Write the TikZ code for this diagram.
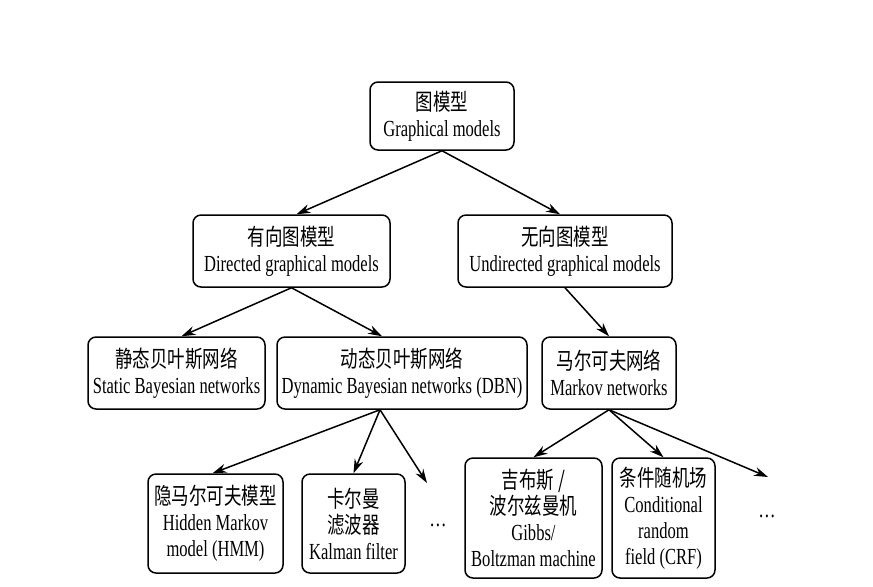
\documentclass[tikz,border=0pt]{standalone}
\usepackage{fontspec}
\setmainfont{Liberation Serif}[FakeStretch=0.72]
\newfontfamily\cjk{Noto Sans CJK SC}[FakeStretch=0.76]
\usepackage{tikz}
\usetikzlibrary{arrows.meta}

\tikzset{
  box/.style={draw, rounded corners=4pt, line width=0.75pt, align=center,
    inner sep=1pt, font=\fontsize{11.5}{13}\selectfont},
  more/.style={font=\fontsize{12}{13}\selectfont, inner sep=0pt},
  link/.style={-{Stealth[length=7pt,width=4.5pt]}, line width=0.75pt},
}

\begin{document}
\begin{tikzpicture}[x=0.5pt,y=-0.5pt]
    \useasboundingbox (0,0) rectangle (873,586);
    \begin{scope} % Root and first level
        \node[box, minimum width=72pt, minimum height=34pt] (gm) at (442,116)
            {{\cjk 图模型}\\Graphical models};
        \node[box, minimum width=98.5pt, minimum height=36pt] (dgm) at (291.5,251)
            {{\cjk 有向图模型}\\Directed graphical models};
        \node[box, minimum width=107pt, minimum height=36pt] (ugm) at (565,251)
            {{\cjk 无向图模型}\\Undirected graphical models};
    \end{scope}
    \begin{scope} % Second level
        \node[box, minimum width=88.5pt, minimum height=36pt] (sbn) at (176.5,373)
            {{\cjk 静态贝叶斯网络}\\Static Bayesian networks};
        \node[box, minimum width=125pt, minimum height=36pt] (dbn) at (402,373)
            {{\cjk 动态贝叶斯网络}\\Dynamic Bayesian networks (DBN)};
        \node[box, minimum width=67pt, minimum height=36pt] (mn) at (609,373)
            {{\cjk 马尔可夫网络}\\Markov networks};
    \end{scope}
    \begin{scope} % Leaves
        \node[box, minimum width=67.5pt, minimum height=49.5pt] (hmm) at (215.5,523.5)
            {{\cjk 隐马尔可夫模型}\\Hidden Markov\\model (HMM)};
        \node[box, minimum width=51.5pt, minimum height=49.5pt] (kf) at (353.5,523.5)
            {{\cjk 卡尔曼}\\{\cjk 滤波器}\\Kalman filter};
        \node[more] (dotsa) at (438,525) {…};
        \node[box, minimum width=68.5pt, minimum height=60pt] (gibbs) at (533.5,518)
            {{\cjk 吉布斯 /}\\{\cjk 波尔兹曼机}\\Gibbs/\\Boltzman machine};
        \node[box, minimum width=51.5pt, minimum height=60pt] (crf) at (663.5,518)
            {{\cjk 条件随机场}\\Conditional\\random\\field (CRF)};
        \node[more] (dotsb) at (767,516) {…};
    \end{scope}
    \begin{scope} % Arrows
        \coordinate (dbnin) at ([xshift=-10pt]dbn.north);
        \coordinate (dbnout) at ([xshift=-11pt]dbn.south);
        \coordinate (toa) at (427,483);
        \coordinate (tob) at (768,477);
        \draw[link] (gm.south) -- ([xshift=2.5pt]dgm.north);
        \draw[link] (gm.south) -- ([xshift=-2.5pt]ugm.north);
        \draw[link] (dgm.south) -- ([xshift=2.5pt]sbn.north);
        \draw[link] (dgm.south) -- (dbnin);
        \draw[link] (ugm.south) -- (mn.north);
        \draw[link] (dbnout) -- ([xshift=-1.5pt]hmm.north);
        \draw[link] (dbnout) -- (kf.north);
        \draw[link] (dbnout) -- (toa);
        \draw[link] (mn.south) -- (gibbs.north);
        \draw[link] (mn.south) -- (crf.north);
        \draw[link] (mn.south) -- (tob);
    \end{scope}
\end{tikzpicture}
\end{document}
